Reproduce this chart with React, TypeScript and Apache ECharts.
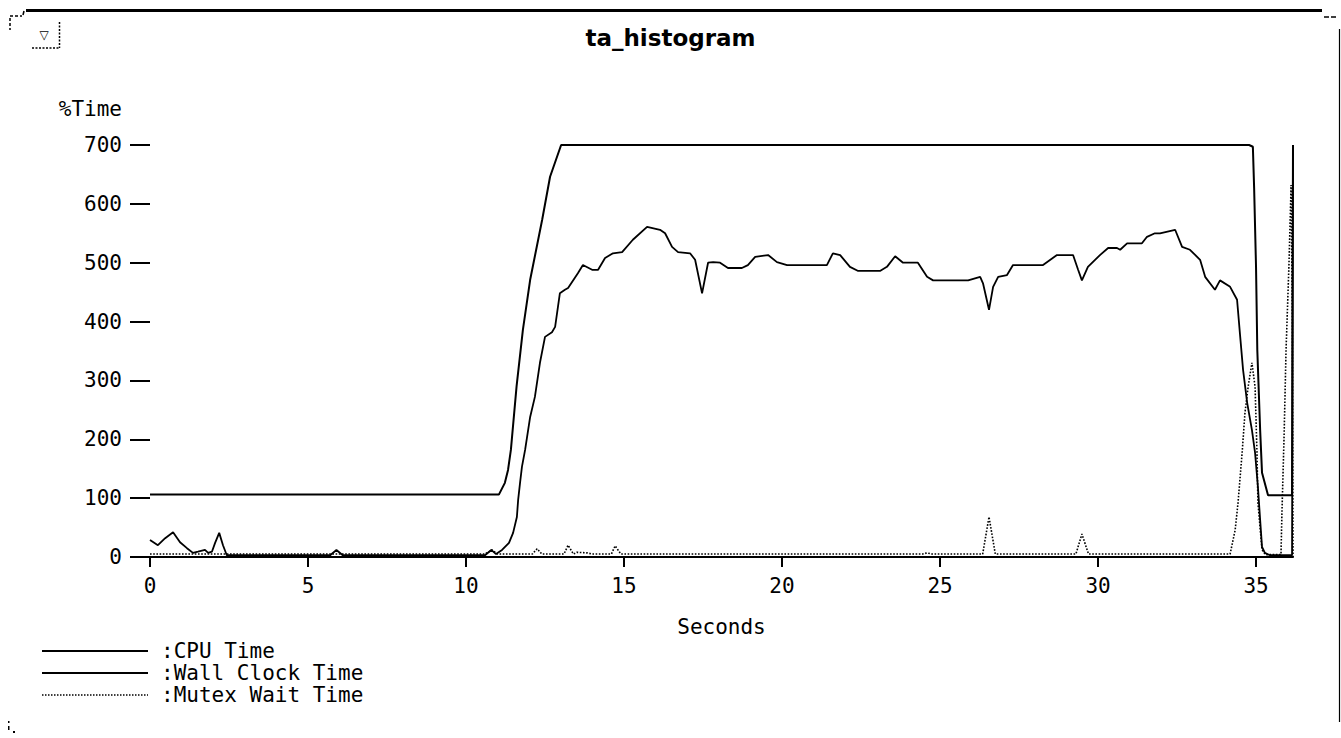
import React, { useEffect, useRef } from "react";
import * as echarts from "echarts";

const titleText = "ta_histogram";
const yName = "%Time";
const xName = "Seconds";
const seriesNames = ["CPU Time", "Wall Clock Time", "Mutex Wait Time"];
const xTicks = [0, 5, 10, 15, 20, 25, 30, 35];

const cpuTime = [0, 11.04, 11.23, 11.33, 11.42, 11.6, 11.8, 12.03, 12.41, 12.66, 13.01, 34.78, 34.9, 34.94, 35.0, 35.04, 35.13, 35.19, 35.38, 36.14, 36.17];
const cpuValue = [106, 106, 126, 148, 182, 290, 386, 471, 573, 646, 700, 700, 697, 627, 493, 352, 216, 143, 105, 105, 700];

const wallTime = [0, 0.25, 0.48, 0.73, 0.95, 1.17, 1.36, 1.52, 1.74, 1.84, 1.96, 2.06, 2.19, 2.31, 2.43, 5.7, 5.9, 6.1, 10.6, 10.8, 10.95, 11.14, 11.36, 11.49, 11.61, 11.65, 11.71, 11.77, 11.87, 12.03, 12.18, 12.34, 12.5, 12.72, 12.82, 12.97, 13.13, 13.23, 13.54, 13.7, 13.99, 14.18, 14.4, 14.65, 14.94, 15.28, 15.73, 16.14, 16.3, 16.52, 16.71, 17.09, 17.25, 17.47, 17.66, 17.82, 18.04, 18.29, 18.73, 18.92, 19.15, 19.56, 19.84, 20.16, 20.57, 21.42, 21.61, 21.84, 22.15, 22.41, 23.1, 23.32, 23.58, 23.83, 24.3, 24.59, 24.78, 25.89, 26.27, 26.36, 26.55, 26.68, 26.84, 27.12, 27.31, 28.26, 28.7, 29.21, 29.37, 29.49, 29.68, 30.06, 30.32, 30.6, 30.7, 30.92, 31.39, 31.55, 31.8, 31.96, 32.44, 32.66, 32.91, 33.23, 33.39, 33.7, 33.86, 34.18, 34.4, 34.49, 34.59, 34.72, 34.87, 34.97, 35.06, 35.13, 35.19, 35.28, 35.44, 36.14, 36.17];
const wallValue = [29, 20, 32, 42, 25, 15, 7, 9, 12, 7, 9, 24, 41, 20, 3, 3, 12, 3, 3, 12, 5, 12, 24, 41, 68, 97, 126, 153, 182, 238, 272, 330, 374, 382, 391, 448, 454, 457, 482, 496, 488, 488, 508, 516, 518, 539, 561, 556, 550, 527, 518, 516, 505, 448, 500, 501, 500, 491, 491, 496, 510, 513, 501, 496, 496, 496, 516, 513, 493, 486, 486, 493, 511, 500, 500, 476, 470, 470, 476, 465, 420, 459, 476, 479, 496, 496, 513, 513, 488, 470, 493, 513, 525, 525, 522, 533, 533, 544, 550, 550, 556, 527, 522, 505, 476, 454, 470, 459, 437, 380, 318, 262, 216, 177, 119, 63, 17, 7, 3, 3, 700];

const mutexTime = [0, 10.6, 10.82, 11.0, 12.1, 12.25, 12.4, 13.1, 13.23, 13.4, 13.51, 13.83, 14.0, 14.6, 14.72, 14.9, 24.45, 24.59, 24.75, 26.35, 26.55, 26.75, 29.3, 29.49, 29.7, 34.18, 34.34, 34.43, 34.56, 34.65, 34.75, 34.87, 34.97, 35.03, 35.06, 35.19, 35.3, 35.79, 35.82, 35.89, 35.95, 36.04, 36.11, 36.15, 36.17];
const mutexValue = [5, 5, 12, 5, 5, 14, 5, 5, 20, 5, 8, 7, 5, 5, 19, 5, 5, 7, 5, 5, 68, 5, 5, 39, 5, 5, 46, 92, 177, 245, 289, 330, 289, 177, 92, 12, 4, 4, 75, 210, 352, 493, 632, 400, 0];

const zip = (t: number[], v: number[]) => t.map((x, i) => [x, v[i]]);

const MONO = "'DejaVu Sans Mono', monospace";

export default function App() {
  const ref = useRef<HTMLDivElement>(null);
  useEffect(() => {
    if (!ref.current) return;
    const chart = echarts.init(ref.current, null, { renderer: "svg" });
    const legendY = [651, 673, 695];
    const legendDash: (number[] | null)[] = [null, null, [1.5, 1.5]];
    const legendGraphics: any[] = [];
    seriesNames.forEach((name, i) => {
      legendGraphics.push({
        type: "line",
        shape: { x1: 42, y1: legendY[i], x2: 148, y2: legendY[i] },
        style: { stroke: "#000", lineWidth: i === 2 ? 1.3 : 2, lineDash: legendDash[i] || undefined },
      });
      legendGraphics.push({
        type: "text",
        x: 161,
        y: legendY[i],
        style: { text: ":" + name, font: `21px ${MONO}`, fill: "#000", verticalAlign: "middle", align: "left" },
      });
    });
    const decor: any[] = [
      { type: "rect", shape: { x: 26, y: 9, width: 1296, height: 3 }, style: { fill: "#000" } },
      { type: "line", shape: { x1: 24, y1: 11, x2: 23, y2: 15 }, style: { stroke: "#000", lineWidth: 1.5 } },
      { type: "line", shape: { x1: 10, y1: 16, x2: 22, y2: 16 }, style: { stroke: "#000", lineWidth: 1.5, lineDash: [3, 2] } },
      { type: "line", shape: { x1: 10, y1: 18, x2: 10, y2: 30 }, style: { stroke: "#000", lineWidth: 1.5, lineDash: [3, 2] } },
      { type: "line", shape: { x1: 32, y1: 48, x2: 60, y2: 48 }, style: { stroke: "#000", lineWidth: 1.5, lineDash: [2, 1.5] } },
      { type: "line", shape: { x1: 59.5, y1: 22, x2: 59.5, y2: 48 }, style: { stroke: "#000", lineWidth: 1.5, lineDash: [2, 1.5] } },
      { type: "text", x: 44, y: 35, style: { text: "▽", font: `12px 'DejaVu Sans'`, fill: "#000", align: "center", verticalAlign: "middle" } },
      { type: "line", shape: { x1: 1324, y1: 17, x2: 1337, y2: 17 }, style: { stroke: "#000", lineWidth: 1.5, lineDash: [5, 2] } },
      { type: "line", shape: { x1: 1339.5, y1: 29, x2: 1339.5, y2: 722 }, style: { stroke: "#000", lineWidth: 1.2 } },
      { type: "rect", shape: { x: 8, y: 721, width: 1.5, height: 2 }, style: { fill: "#000" } },
      { type: "rect", shape: { x: 8, y: 726, width: 1.5, height: 4 }, style: { fill: "#000" } },
      { type: "rect", shape: { x: 13, y: 731, width: 2, height: 2 }, style: { fill: "#000" } },
    ];
    chart.setOption({
      animation: false,
      backgroundColor: "#fff",
      title: {
        text: titleText,
        left: "center",
        top: 21,
        textStyle: { fontFamily: "'DejaVu Sans'", fontWeight: "bold", fontSize: 23, color: "#000" },
      },
      grid: { left: 150, right: 48, top: 145, bottom: 181, containLabel: false },
      xAxis: {
        type: "value",
        min: 0,
        max: 36.17,
        interval: 5,
        name: xName,
        nameLocation: "middle",
        nameGap: 59,
        nameTextStyle: { fontFamily: MONO, fontSize: 21, color: "#000" },
        axisLine: { show: true, lineStyle: { color: "#000", width: 2 } },
        axisTick: { show: true, length: 10, lineStyle: { color: "#000", width: 2 }, customValues: xTicks },
        axisLabel: {
          customValues: xTicks,
          margin: 18,
          fontFamily: MONO,
          fontSize: 21,
          color: "#000",
          formatter: (v: number) => (Math.abs(v % 5) < 1e-6 ? String(v) : ""),
        },
        splitLine: { show: false },
      },
      yAxis: {
        type: "value",
        min: 0,
        max: 700,
        interval: 100,
        name: yName,
        nameLocation: "end",
        nameGap: 26,
        nameTextStyle: { fontFamily: MONO, fontSize: 21, color: "#000", align: "right", padding: [0, 28, 0, 0] },
        axisLine: { show: false },
        axisTick: { show: true, length: 20, lineStyle: { color: "#000", width: 2 } },
        axisLabel: { margin: 28, fontFamily: MONO, fontSize: 21, color: "#000" },
        splitLine: { show: false },
      },
      series: [
        {
          name: seriesNames[0],
          type: "line",
          data: zip(cpuTime, cpuValue),
          showSymbol: false,
          symbol: "none",
          lineStyle: { color: "#000", width: 2 },
        },
        {
          name: seriesNames[1],
          type: "line",
          data: zip(wallTime, wallValue),
          showSymbol: false,
          symbol: "none",
          lineStyle: { color: "#000", width: 1.8 },
        },
        {
          name: seriesNames[2],
          type: "line",
          data: zip(mutexTime, mutexValue),
          showSymbol: false,
          symbol: "none",
          lineStyle: { color: "#000", width: 1.6, type: [1.6, 1.6] },
        },
      ],
      graphic: [...decor, ...legendGraphics],
    });
    return () => chart.dispose();
  }, []);
  return (
    <div
      ref={ref}
      style={{ position: "fixed", left: 0, top: 0, width: 1341, height: 738, background: "#fff" }}
    />
  );
}
